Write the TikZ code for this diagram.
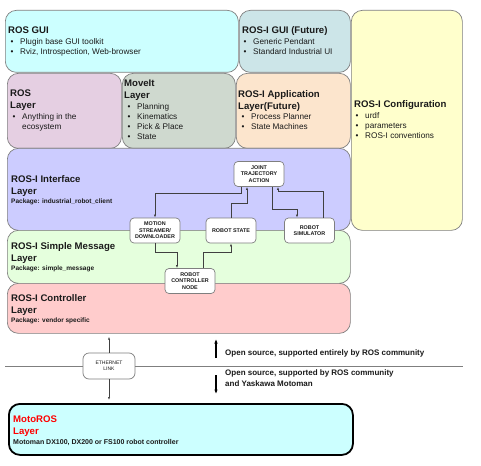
\documentclass[tikz,border=0pt]{standalone}
\usepackage{fontspec}
\setmainfont{Liberation Sans}
\usepackage{xcolor}
\definecolor{cGui}{HTML}{CCFFFF}
\definecolor{cGuiI}{HTML}{CCE5E8}
\definecolor{cConf}{HTML}{FFFFCC}
\definecolor{cRos}{HTML}{E5CFE2}
\definecolor{cMove}{HTML}{CFD9CF}
\definecolor{cApp}{HTML}{FCE5CD}
\definecolor{cIface}{HTML}{CCCCFF}
\definecolor{cMsg}{HTML}{E5FFDD}
\definecolor{cCtrl}{HTML}{FFCCCC}
\definecolor{cLine}{HTML}{7F7F7F}
\definecolor{cWire}{HTML}{404040}
\definecolor{cInk}{HTML}{1A1A1A}
\definecolor{cMoto}{HTML}{FF0000}
\usepackage{tikz}
\usetikzlibrary{positioning,arrows.meta}
\newcommand{\lbul}{\makebox[12pt][l]{\hspace{2.5pt}\textbullet}}
\newcommand{\lind}{\hspace*{12pt}}
\tikzset{
  layer-box/.style={draw=cLine,line width=0.7pt,rounded corners=11pt,
    anchor=north west,inner sep=0pt},
  % multi-line texts: placed by the baseline of their last line
  layer-title/.style={anchor=base west,inner sep=0pt,align=left,
    font=\fontsize{9.6}{12}\selectfont\bfseries,text=cInk},
  layer-list/.style={anchor=base west,inner sep=0pt,align=left,
    font=\fontsize{8.2}{10}\selectfont,text=cInk},
  layer-pkg/.style={anchor=base west,inner sep=0pt,
    font=\fontsize{6.5}{8}\selectfont\bfseries,text=cInk},
  node-block/.style={draw=cLine,fill=white,line width=0.7pt,rounded corners=4pt,
    minimum width=50pt,minimum height=25pt,align=center,inner sep=1pt,
    font=\fontsize{5.4}{6.5}\selectfont\bfseries,text=cInk},
  link/.style={-{Latex[length=3pt,width=2.2pt]},draw=cWire,line width=0.7pt},
  divider/.style={draw=cLine,line width=0.8pt},
  arrow-big/.style={-{Latex[length=4.5pt,width=3.6pt]},line width=1.1pt,draw=black},
  note/.style={anchor=base west,inner sep=0pt,align=left,
    font=\fontsize{8}{10.5}\selectfont\bfseries,text=cInk},
}
\begin{document}
\begin{tikzpicture}[x=1pt,y=-1pt]
  \useasboundingbox[fill=white] (0,0) rectangle (481,465);

  % upper layers
  \node[layer-box,fill=cGui,minimum width=233pt,minimum height=62pt] (rosgui) at (5,10) {};
  \node[layer-box,fill=cGuiI,minimum width=111pt,minimum height=62pt] (rosigui) at (239,10) {};
  \node[layer-box,fill=cConf,minimum width=111pt,minimum height=220pt] (config) at (351,10) {};
  \node[layer-box,fill=cRos,minimum width=114pt,minimum height=75pt] (roslayer) at (7,73) {};
  \node[layer-box,fill=cMove,minimum width=113pt,minimum height=75pt] (moveit) at (122,73) {};
  \node[layer-box,fill=cApp,minimum width=114pt,minimum height=75pt] (app) at (236,73) {};

  % ROS-I stack
  \node[layer-box,fill=cIface,minimum width=343pt,minimum height=82pt] (iface) at (7,148) {};
  \node[layer-box,fill=cMsg,minimum width=343pt,minimum height=53pt] (msg) at (7,230) {};
  \node[layer-box,fill=cCtrl,minimum width=343pt,minimum height=50pt] (ctrl) at (7,283) {};
  \node[layer-box,fill=cGui,draw=black,line width=1.8pt,minimum width=344pt,
    minimum height=51pt] (moto) at (8,403) {};

  \node[layer-title] (rosgui-t) at (8,33.5) {ROS GUI};
  \node[layer-list] (rosgui-l) at (8,54.5) {\lbul Plugin base GUI toolkit\\
    \lbul Rviz, Introspection, Web-browser};
  \node[layer-title] (rosigui-t) at (242,34) {ROS-I GUI (Future)};
  \node[layer-list] (rosigui-l) at (241,54.7) {\lbul Generic Pendant\\
    \lbul Standard Industrial UI};
  \node[layer-title] (roslayer-t) at (10,109) {ROS\\Layer};
  \node[layer-list] (roslayer-l) at (10,129.7) {\lbul Anything in the\\ \lind ecosystem};
  \node[layer-title] (moveit-t) at (124,99) {MoveIt\\Layer};
  \node[layer-list] (moveit-l) at (125,139.7) {\lbul Planning\\ \lbul Kinematics\\
    \lbul Pick \& Place\\ \lbul State};
  \node[layer-title] (app-t) at (238,109.5) {ROS-I Application\\Layer(Future)};
  \node[layer-list] (app-l) at (239,129.7) {\lbul Process Planner\\ \lbul State Machines};
  \node[layer-title] (config-t) at (354,108) {ROS-I Configuration};
  \node[layer-list] (config-l) at (353,139) {\lbul urdf\\ \lbul parameters\\
    \lbul ROS-I conventions};

  \node[layer-title] (iface-t) at (11,194.5) {ROS-I Interface\\Layer};
  \node[layer-pkg] (iface-p) at (11,203) {Package: industrial\_robot\_client};
  \node[layer-title] (msg-t) at (11,261.5) {ROS-I Simple Message\\Layer};
  \node[layer-pkg] (msg-p) at (11,270) {Package: simple\_message};
  \node[layer-title] (ctrl-t) at (11,313) {ROS-I Controller\\Layer};
  \node[layer-pkg] (ctrl-p) at (11,322) {Package: vendor specific};
  \node[layer-title,text=cMoto] (moto-t) at (13,434) {MotoROS\\Layer};
  \node[layer-pkg,font=\fontsize{7}{8}\selectfont\bfseries] (moto-p) at (13,444)
    {Motoman DX100, DX200 or FS100 robot controller};

  % blocks
  \node[node-block] (jta) at (259,174) {JOINT\\TRAJECTORY\\ACTION};
  \node[node-block] (ms) at (155,230.5) {MOTION\\STREAMER/\\DOWNLOADER};
  \node[node-block] (rs) at (231,230.5) {ROBOT STATE};
  \node[node-block] (sim) at (309.5,230.5) {ROBOT\\SIMULATOR};
  \node[node-block] (rcn) at (190,281) {ROBOT\\CONTROLLER\\NODE};
  \node[node-block,rounded corners=6pt,minimum width=52pt,minimum height=26pt,
    font=\fontsize{5}{6.5}\selectfont] (eth) at (109,366) {ETHERNET\\LINK};

  \draw[link] ([xshift=-18pt]jta.south) -- ++(0,6) -| (ms.north);
  \draw[link] (rs.north) -- ++(0,-14) -| ([xshift=-12pt]jta.south);
  \draw[link] ([xshift=13pt]jta.south) -- ++(0,22) -| ([xshift=-12.5pt]sim.north);
  \draw[link] ([xshift=13.5pt]sim.north) -- ++(0,-26) -| ([xshift=19pt]jta.south);
  \draw[link] (ms.south) -- ++(0,9) -| ([xshift=-13pt]rcn.north);
  \draw[link] ([xshift=13pt]rcn.north) -- ++(0,-16) -| (rs.south);
  \draw[link,shorten >=3pt] (eth.north) -- (eth.north |- ctrl.south);
  \draw[link,shorten >=3pt] (eth.south) -- (eth.south |- moto.north);

  % open source split
  \coordinate (div-l) at (5,366);
  \coordinate (div-r) at (463,366);
  \draw[divider] (div-l) -- (eth.west);
  \draw[divider] (eth.east) -- (div-r);
  \node[note] (up-t) at (225,355.5) {Open source, supported entirely by ROS community};
  \node[note] (down-t) at (225,386) {Open source, supported by ROS community\\
    and Yaskawa Motoman};
  \coordinate (up-a) at (216,358);
  \coordinate (down-a) at (216,375);
  \draw[arrow-big] (up-a) -- ++(0,-19);
  \draw[arrow-big] (down-a) -- ++(0,19);
\end{tikzpicture}
\end{document}
